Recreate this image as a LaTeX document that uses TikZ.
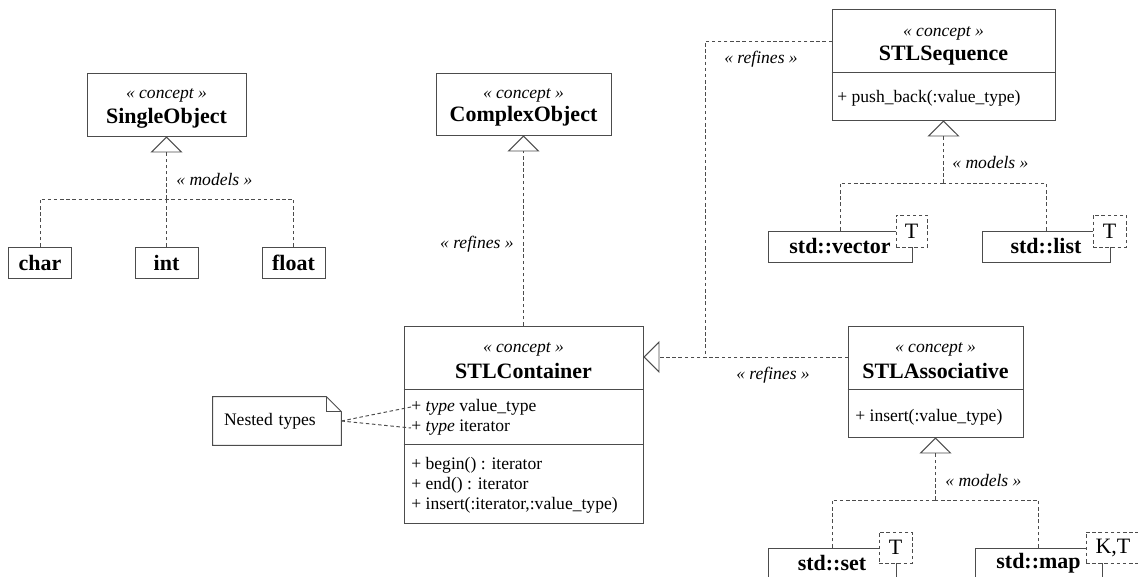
\documentclass[tikz,border=0pt]{standalone}
\usepackage{fontspec}
\setmainfont{Liberation Serif}[BoldFont={Liberation Serif Bold}, ItalicFont={Liberation Serif Italic}]
\usetikzlibrary{arrows.meta, positioning, calc}
\tikzset{cls/.style={draw=black!70, line width=0.55pt, fill=white, inner sep=0pt},
    stereo/.style={inner sep=0pt, yshift=-1.2pt, font=\fontsize{10}{12}\selectfont\itshape},
    cname/.style={inner sep=0pt, font=\fontsize{12.5}{15}\selectfont\bfseries},
    hname/.style={cname, yshift=-1.2pt},
    member/.style={inner sep=0pt, anchor=west, font=\fontsize{10}{12}\selectfont},
    tmpl/.style={draw=black!70, line width=0.55pt, dash pattern=on 2pt off 1.5pt, fill=white,
        inner sep=0pt, font=\fontsize{12.5}{14}\selectfont},
    divider/.style={draw=black!70, line width=0.55pt},
    dep/.style={draw=black!70, line width=0.55pt, dash pattern=on 2pt off 1.5pt},
    realize/.style={dep, -{Triangle[open, width=0.64cm, length=0.32cm]}}}

\begin{document}
\begin{tikzpicture}[x=0.02cm, y=-0.02cm]
        \useasboundingbox (0,0) rectangle (1138,577);
        \clip (0,0) rectangle (1138,577);

        % single objects
        \node[cls, minimum width=3.18cm, minimum height=1.26cm] (single) at (166.5,104.5) {};
        \node[stereo] (single-st) at (166.5,93) {« concept »};
        \node[hname] (single-nm) at (166.5,116) {SingleObject};
        \coordinate (single-mod) at (166.5,199);
        \draw[realize] (single-mod) -- (single.south);
        \node[stereo, anchor=west] (single-lbl) at (176,177) {« models »};
        \foreach \n/\x in {char/40, int/166.5, float/293.5}
        {
            \node[cls, cname, minimum width=1.26cm, minimum height=0.62cm] (\n) at (\x,262.5) {\n};
            \draw[dep] (\n.north) |- (single-mod);
        }

        % complex object
        \node[cls, minimum width=3.5cm, minimum height=1.24cm] (complex) at (523.5,104) {};
        \node[stereo] (complex-st) at (523.5,93) {« concept »};
        \node[hname] (complex-nm) at (523.5,114) {ComplexObject};

        % container
        \node[cls, minimum width=4.78cm, minimum height=3.94cm] (cont) at (523.5,424.5) {};
        \node[stereo] (cont-st) at (523.5,347) {« concept »};
        \node[hname] (cont-nm) at (523.5,369) {STLContainer};
        \draw[divider] (cont.west |- 0,389) -- (cont.east |- 0,389);
        \draw[divider] (cont.west |- 0,444) -- (cont.east |- 0,444);
        \node[member] (cont-a1) at (411,407) {+ \textit{type} value\_type};
        \node[member] (cont-a2) at (411,428) {+ \textit{type} iterator};
        \node[member] (cont-o1) at (411,465) {+ begin() : iterator};
        \node[member] (cont-o2) at (411,485) {+ end() : iterator};
        \node[member] (cont-o3) at (411,505) {+ insert(:iterator,:value\_type)};
        \draw[realize] (cont.north) -- (complex.south);
        \node[stereo, anchor=east] (cont-lbl) at (514,242) {« refines »};

        % note
        \node[member, anchor=center, text width=2.12cm, inner xsep=0.22cm, minimum height=0.96cm,
            align=left] (note) at (277,421) {Nested types};
        \draw[divider] (note.north west) -- ([xshift=-0.3cm]note.north east)
            -- ([yshift=-0.3cm]note.north east) -- (note.south east) -- (note.south west) -- cycle;
        \draw[divider] ([xshift=-0.3cm]note.north east) -- ([xshift=-0.3cm, yshift=-0.3cm]note.north east)
            -- ([yshift=-0.3cm]note.north east);
        \draw[dep] (note.east) -- (cont-a1.west);
        \draw[dep] (note.east) -- (cont-a2.west);

        % sequence
        \node[cls, minimum width=4.46cm, minimum height=2.22cm] (seq) at (943.5,64.5) {};
        \node[stereo] (seq-st) at (943.5,31) {« concept »};
        \node[hname] (seq-nm) at (943.5,53) {STLSequence};
        \draw[divider] (seq.west |- 0,72) -- (seq.east |- 0,72);
        \node[member] (seq-o1) at (837,98) {+ push\_back(:value\_type)};
        \coordinate (seq-mod) at (943.5,183);
        \draw[realize] (seq-mod) -- (seq.south);
        \node[stereo, anchor=west] (seq-lbl) at (952,160) {« models »};
        \node[cls, cname, minimum width=2.88cm, minimum height=0.62cm] (vector) at (840,246.5) {std::vector};
        \node[tmpl, minimum width=0.62cm, minimum height=0.64cm] (vector-t) at (911.5,231) {T};
        \node[cls, cname, minimum width=2.56cm, minimum height=0.62cm] (list) at (1046,246.5) {std::list};
        \node[tmpl, minimum width=0.66cm, minimum height=0.64cm] (list-t) at (1109.5,231) {T};
        \draw[dep] (vector.north) |- (seq-mod);
        \draw[dep] (list.north) |- (seq-mod);

        % associative
        \node[cls, minimum width=3.5cm, minimum height=2.22cm] (assoc) at (935.5,381.5) {};
        \node[stereo] (assoc-st) at (935.5,347) {« concept »};
        \node[hname] (assoc-nm) at (935.5,369) {STLAssociative};
        \draw[divider] (assoc.west |- 0,389) -- (assoc.east |- 0,389);
        \node[member] (assoc-o1) at (855,417) {+ insert(:value\_type)};
        \coordinate (assoc-mod) at (935.5,500);
        \draw[realize] (assoc-mod) -- (assoc.south);
        \node[stereo, anchor=west] (assoc-lbl) at (945,478) {« models »};
        \node[cls, cname, minimum width=2.56cm, minimum height=0.62cm] (set) at (832,563.5) {std::set};
        \node[tmpl, minimum width=0.66cm, minimum height=0.62cm] (set-t) at (895.5,547.5) {T};
        \node[cls, cname, minimum width=2.54cm, minimum height=0.62cm] (map) at (1038.5,563.5) {std::map};
        \node[tmpl, minimum width=1.08cm, minimum height=0.62cm] (map-t) at (1113,547.5) {K,T};
        \draw[dep] (set.north) |- (assoc-mod);
        \draw[dep] (map.north) |- (assoc-mod);

        % refinement of the container
        \coordinate (seq-in) at (832,41);
        \coordinate (assoc-in) at (848,357);
        \coordinate (ref-join) at (705,357);
        \draw[dep] (seq-in) -| (ref-join);
        \draw[realize] (assoc-in) -- (cont.east |- assoc-in);
        \node[stereo] (seq-ref) at (761,57) {« refines »};
        \node[stereo] (assoc-ref) at (773,373) {« refines »};
    \end{tikzpicture}
\end{document}
